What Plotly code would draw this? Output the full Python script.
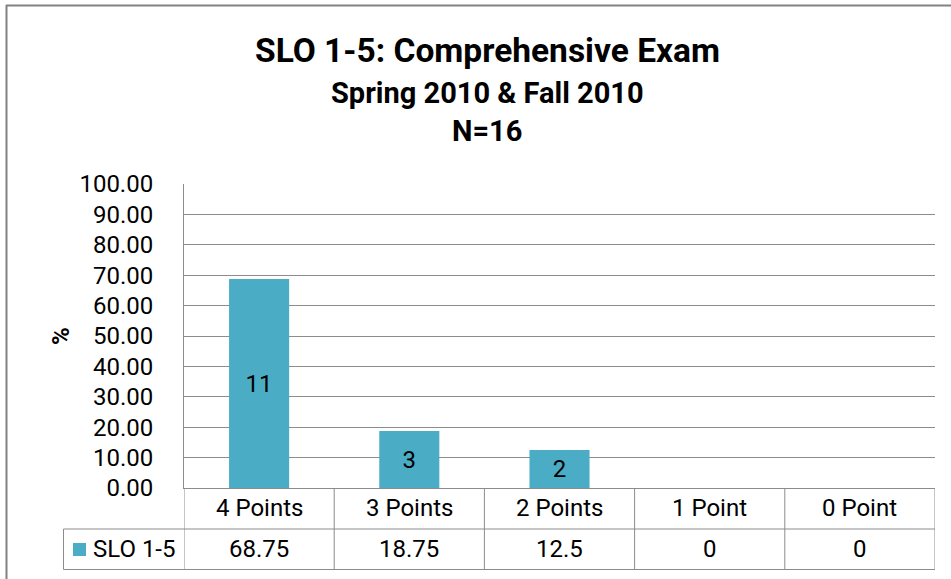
import plotly.graph_objects as go

# ---- data ----
categories = ["4 Points", "3 Points", "2 Points", "1 Point", "0 Point"]
values = [68.75, 18.75, 12.5, 0, 0]
counts = ["11", "3", "2", "", ""]
series_name = "SLO 1-5"
title_lines = ["SLO 1-5: Comprehensive Exam", "Spring 2010 & Fall 2010", "N=16"]
y_title = "%"

W, H = 951, 579
BAR = "#4BACC6"
GRID = "#8c8c8c"
FONT = "Roboto"
FS = 24


def px(x):
    return x / W


def py(y):
    return 1 - y / H


fig = go.Figure()
fig.add_trace(go.Bar(
    x=categories, y=values, text=counts, name=series_name,
    marker=dict(color=BAR, line=dict(width=0)),
    width=0.4, textposition="inside", insidetextanchor="middle",
    textfont=dict(family=FONT, size=FS, color="#000000"),
    textangle=0, showlegend=False, hoverinfo="x+y",
))

shapes = []
annotations = []

# outer chart border (top & left visible)
shapes.append(dict(type="line", xref="paper", yref="paper", x0=px(6), x1=1.01,
                   y0=py(5.5), y1=py(5.5), line=dict(color="#828282", width=2)))
shapes.append(dict(type="line", xref="paper", yref="paper", x0=px(6.5), x1=px(6.5),
                   y0=py(5), y1=-0.01, line=dict(color="#828282", width=2)))

# data table grid
for i in range(len(categories) + 1):
    shapes.append(dict(type="line", xref="x", yref="paper", x0=i - 0.5, x1=i - 0.5,
                       y0=py(488), y1=py(569.5), line=dict(color=GRID, width=1)))
for yy in (529, 569.5):
    shapes.append(dict(type="line", xref="paper", yref="paper", x0=px(63.5), x1=px(935),
                       y0=py(yy), y1=py(yy), line=dict(color=GRID, width=1)))
shapes.append(dict(type="line", xref="paper", yref="paper", x0=px(63.5), x1=px(63.5),
                   y0=py(529), y1=py(569.5), line=dict(color=GRID, width=1)))
# legend key
shapes.append(dict(type="rect", xref="paper", yref="paper", x0=px(73), x1=px(86),
                   y0=py(556), y1=py(543), fillcolor=BAR, line=dict(width=0)))

txt_font = dict(family=FONT, size=FS, color="#000000")
for c, v in zip(categories, values):
    annotations.append(dict(x=c, xref="x", y=py(508), yref="paper", text=c,
                            yanchor="middle", showarrow=False, font=txt_font))
    annotations.append(dict(x=c, xref="x", y=py(549), yref="paper", text=f"{v:g}",
                            yanchor="middle", showarrow=False, font=txt_font))
annotations.append(dict(x=px(91), xref="paper", y=py(549), yref="paper", text=series_name,
                        xanchor="left", yanchor="middle", showarrow=False, font=txt_font))

# titles
for txt, yy, sz in zip(title_lines, (50, 93, 131), (33.5, 29, 29)):
    annotations.append(dict(x=px(487), xref="paper", y=py(yy), yref="paper",
                            text=f"<b>{txt}</b>", xanchor="center", yanchor="middle",
                            showarrow=False,
                            font=dict(family=FONT, size=sz, color="#000000")))
annotations.append(dict(x=px(61), xref="paper", y=py(336), yref="paper",
                        text=f"<b>{y_title}</b>", textangle=-90, showarrow=False,
                        xanchor="center", yanchor="middle", font=txt_font))

fig.update_layout(
    width=W, height=H, margin=dict(l=0, r=0, t=0, b=0, pad=0, autoexpand=False),
    paper_bgcolor="white", plot_bgcolor="white",
    shapes=shapes, annotations=annotations,
    xaxis=dict(domain=[px(184), px(935)], range=[-0.5, 4.5], showticklabels=False,
               showgrid=False, showline=True, linecolor=GRID, linewidth=1,
               ticks="", fixedrange=True, zeroline=False, automargin=False),
    yaxis=dict(domain=[py(488), py(184)], range=[0, 100], dtick=10, tickformat=".2f",
               showgrid=True, gridcolor=GRID, gridwidth=1, showline=True,
               linecolor=GRID, linewidth=1, ticks="", ticklabelstandoff=25,
               zeroline=False, automargin=False, fixedrange=True, tickfont=txt_font),
    bargap=0.6,
)

fig.write_html("out.html", config={"displayModeBar": False},
               post_script="document.body.style.margin='0';")
